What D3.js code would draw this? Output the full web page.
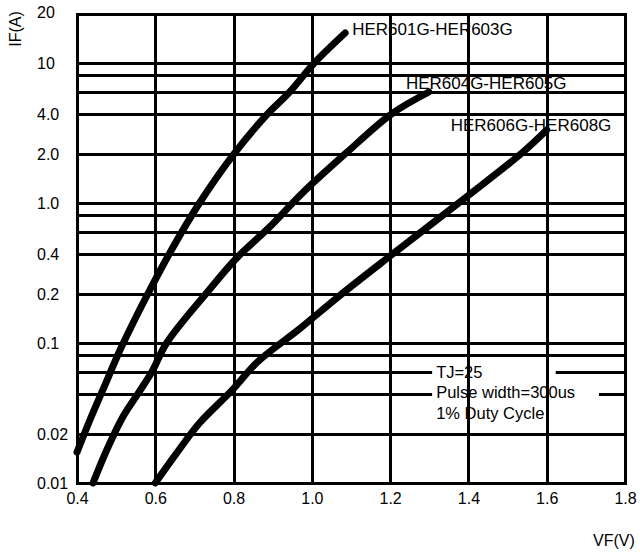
<!DOCTYPE html>
<html>
<head>
<meta charset="utf-8">
<script src="https://cdn.jsdelivr.net/npm/d3@7"></script>
<style>
  html, body { margin: 0; padding: 0; background: #fff; }
  svg { display: block; }
  text { font-family: "Liberation Sans", Arial, sans-serif; fill: #000; }
</style>
</head>
<body>
<svg id="chart" width="640" height="554"></svg>
<script>
// ---- data ----
const xTickValues = [0.4, 0.6, 0.8, 1.0, 1.2, 1.4, 1.6, 1.8];
const xTickLabels = ["0.4", "0.6", "0.8", "1.0", "1.2", "1.4", "1.6", "1.8"];

// horizontal grid lines as drawn (values in IF units)
const yGridValues = [0.0225, 0.043, 0.062, 0.082, 0.1,
                     0.225, 0.43, 0.62, 0.82, 1.0,
                     2.25, 4.3, 6.2, 8.2, 10];
const yTickValues = [0.01, 0.0225, 0.1, 0.225, 0.43, 1.0, 2.25, 4.3, 10, 22.4];
const yTickLabels = ["0.01", "0.02", "0.1", "0.2", "0.4", "1.0", "2.0", "4.0", "10", "20"];

const seriesNames = ["HER601G-HER603G", "HER604G-HER605G", "HER606G-HER608G"];
const vf601 = [0.40, 0.433, 0.466, 0.51, 0.553, 0.586, 0.637, 0.713, 0.803, 0.884, 0.943, 1.006, 1.085];
const if601 = [0.0166, 0.0282, 0.0462, 0.0891, 0.158, 0.239, 0.44, 1.0, 2.28, 4.25, 6.2, 10, 16.4];
const vf604 = [0.441, 0.476, 0.517, 0.555, 0.591, 0.629, 0.731, 0.808, 0.892, 0.976, 1.088, 1.203, 1.299];
const if604 = [0.01, 0.0172, 0.0296, 0.0432, 0.0621, 0.1, 0.2276, 0.405, 0.674, 1.18, 2.28, 4.32, 6.21];
const vf606 = [0.60, 0.655, 0.713, 0.797, 0.861, 0.968, 1.070, 1.203, 1.394, 1.537, 1.60];
const if606 = [0.01, 0.0164, 0.0268, 0.0462, 0.0732, 0.126, 0.217, 0.425, 1.10, 2.28, 3.32];

const notes = ["TJ=25", "Pulse width=300us", "1% Duty Cycle"];

// ---- drawing ----
const svg = d3.select("#chart");
svg.append("rect").attr("width", 640).attr("height", 554).attr("fill", "#fff");

const x = d3.scaleLinear().domain([0.4, 1.8]).range([77, 625]);
const y = d3.scaleLog().domain([0.01, 22.4]).range([483, 14]);
const crisp = v => Math.round(v) + 0.5;

const [x0, x1] = x.range();
const [yb, yt] = y.range();

// curve labels (under the grid)
const labelPos = [
  { vx: 1.085, vy: 16.4, dx: 7, dy: -4 },
  { vx: 1.299, vy: 6.21, dx: -23, dy: -9 },
  { vx: 1.60, vy: 3.32, dx: -96, dy: -5 }
];
svg.append("g").selectAll("text").data(seriesNames).join("text")
  .attr("x", (d, i) => x(labelPos[i].vx) + labelPos[i].dx)
  .attr("y", (d, i) => y(labelPos[i].vy) + labelPos[i].dy)
  .attr("dy", "0.35em")
  .attr("font-size", 17)
  .text(d => d);

// horizontal grid
svg.append("g").selectAll("line").data(yGridValues).join("line")
  .attr("x1", x0).attr("x2", x1)
  .attr("y1", d => crisp(y(d))).attr("y2", d => crisp(y(d)))
  .attr("stroke", "#000").attr("stroke-width", 3);

// white gaps behind the note block
const noteX = x(1.2) + 46;
const gapEnds = [x(1.6) + 9, x(1.8) - 26];
const gapRows = [0.062, 0.043];
svg.append("g").selectAll("rect").data(gapRows).join("rect")
  .attr("x", noteX - 4)
  .attr("width", (d, i) => gapEnds[i] - (noteX - 4))
  .attr("y", d => y(d) - 4).attr("height", 9)
  .attr("fill", "#fff");

// vertical grid
svg.append("g").selectAll("line").data(xTickValues.slice(1, -1)).join("line")
  .attr("x1", d => crisp(x(d))).attr("x2", d => crisp(x(d)))
  .attr("y1", yt).attr("y2", yb)
  .attr("stroke", "#000").attr("stroke-width", 3);

// border
svg.append("rect")
  .attr("x", crisp(x0)).attr("y", crisp(yt))
  .attr("width", Math.round(x1 - x0)).attr("height", Math.round(yb - yt))
  .attr("fill", "none").attr("stroke", "#000").attr("stroke-width", 3);

// curves
const series = [
  d3.zip(vf601, if601),
  d3.zip(vf604, if604),
  d3.zip(vf606, if606)
];
const line = d3.line().x(d => x(d[0])).y(d => y(d[1])).curve(d3.curveCatmullRom.alpha(0.5));
svg.append("g").selectAll("path").data(series).join("path")
  .attr("d", line)
  .attr("fill", "none").attr("stroke", "#000")
  .attr("stroke-width", 7)
  .attr("stroke-linecap", "round").attr("stroke-linejoin", "round");

// notes
svg.append("g").selectAll("text").data(notes).join("text")
  .attr("x", noteX)
  .attr("y", (d, i) => y(0.062) + i * 20.5)
  .attr("dy", "0.35em")
  .attr("font-size", 16.5)
  .text(d => d);

// x axis labels
const xAxis = d3.axisBottom(x).tickValues(xTickValues)
  .tickFormat((d, i) => xTickLabels[i]).tickSize(0).tickPadding(0);
const gx = svg.append("g").attr("transform", `translate(0,${yb})`).call(xAxis);
gx.select(".domain").remove();
gx.selectAll("text").attr("font-size", 16).attr("font-family", null)
  .attr("y", 15).attr("dy", "0.35em");

// y axis labels (left aligned)
const yAxis = d3.axisLeft(y).tickValues(yTickValues)
  .tickFormat((d, i) => yTickLabels[i]).tickSize(0).tickPadding(0);
const gy = svg.append("g").attr("transform", "translate(37,0)").call(yAxis);
gy.select(".domain").remove();
gy.selectAll("text").attr("font-size", 16).attr("font-family", null)
  .attr("text-anchor", "start").attr("x", 0).attr("dy", "0.35em");
gy.selectAll(".tick").filter((d, i) => i === yTickValues.length - 1)
  .select("text").attr("dy", "0.2em");

// axis titles
svg.append("text")
  .attr("transform", "translate(15,29) rotate(-90)")
  .attr("text-anchor", "middle").attr("dy", "0.35em")
  .attr("font-size", 16).text("IF(A)");
svg.append("text")
  .attr("x", 593).attr("y", 540).attr("dy", "0.35em")
  .attr("font-size", 16).text("VF(V)");
</script>
</body>
</html>
